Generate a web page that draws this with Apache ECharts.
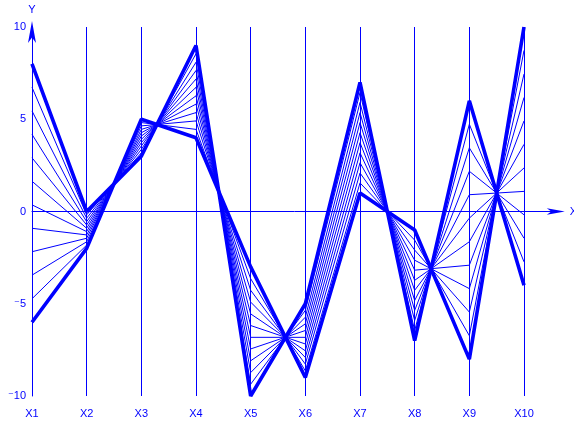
<!DOCTYPE html>
<html>
<head>
<meta charset="utf-8">
<script src="https://cdn.jsdelivr.net/npm/echarts@6/dist/echarts.min.js"></script>
<style>
html,body{margin:0;padding:0;background:#ffffff;}
#chart{width:574px;height:425px;}
</style>
</head>
<body>
<div id="chart"></div>
<script>
// Axis categories and their positions
const categories = ['X1','X2','X3','X4','X5','X6','X7','X8','X9','X10'];
const positions = [1,2,3,4,5,6,7,8,9,10];
const yTickValues = [-10,-5,0,5,10];
const yTickLabels = ['{m|\u207B}10','{m|\u207B}5','0','5','10'];

// Thick boundary lines
const lineA = [8, 0, 3, 9, -10, -5, 7, -7, 6, -4];
const lineB = [-6, -2, 5, 4, -3, -9, 1, -1, -8, 10];

// Thin lines between them
const line1  = [6.73, -0.18, 3.18, 8.55, -9.36, -5.36, 6.45, -6.45, 4.73, -2.73];
const line2  = [5.45, -0.36, 3.36, 8.09, -8.73, -5.73, 5.91, -5.91, 3.45, -1.45];
const line3  = [4.18, -0.55, 3.55, 7.64, -8.09, -6.09, 5.36, -5.36, 2.18, -0.18];
const line4  = [2.91, -0.73, 3.73, 7.18, -7.45, -6.45, 4.82, -4.82, 0.91, 1.09];
const line5  = [1.64, -0.91, 3.91, 6.73, -6.82, -6.82, 4.27, -4.27, -0.36, 2.36];
const line6  = [0.36, -1.09, 4.09, 6.27, -6.18, -7.18, 3.73, -3.73, -1.64, 3.64];
const line7  = [-0.91, -1.27, 4.27, 5.82, -5.55, -7.55, 3.18, -3.18, -2.91, 4.91];
const line8  = [-2.18, -1.45, 4.45, 5.36, -4.91, -7.91, 2.64, -2.64, -4.18, 6.18];
const line9  = [-3.45, -1.64, 4.64, 4.91, -4.27, -8.27, 2.09, -2.09, -5.45, 7.45];
const line10 = [-4.73, -1.82, 4.82, 4.45, -3.64, -8.64, 1.55, -1.55, -6.73, 8.73];

const thinLines = [line1, line2, line3, line4, line5, line6, line7, line8, line9, line10];

const BLUE = '#0000ff';
const FONT = 'Liberation Sans';

function toPairs(vals) {
  return vals.map((v, i) => [positions[i], v]);
}

const series = [];
thinLines.forEach((ln, idx) => {
  series.push({
    type: 'line', name: 'thin' + idx, data: toPairs(ln), xAxisIndex: 0,
    symbol: 'none', lineStyle: { color: BLUE, width: 1 }, z: 3, silent: true
  });
});
[lineA, lineB].forEach((ln, idx) => {
  series.push({
    type: 'line', name: 'thick' + idx, data: toPairs(ln), xAxisIndex: 0,
    symbol: 'none', lineStyle: { color: BLUE, width: 3.6 }, z: 4, silent: true
  });
});

const chart = echarts.init(document.getElementById('chart'), null, { renderer: 'canvas' });
chart.setOption({
  animation: false,
  backgroundColor: '#ffffff',
  grid: { left: 32, right: 17.2, top: 27, bottom: 29, containLabel: false, outerBoundsMode: 'none' },
  xAxis: [
    {
      type: 'value', min: 1, max: 10.6, interval: 1, position: 'bottom',
      axisLine: { show: false, onZero: false },
      axisTick: { show: false },
      splitLine: { show: true, showMinLine: true, showMaxLine: false, lineStyle: { color: BLUE, width: 1 } },
      axisLabel: {
        show: true, showMaxLabel: false, margin: 12,
        color: BLUE, fontFamily: FONT, fontSize: 11,
        formatter: function (v) { const i = positions.indexOf(v); return i >= 0 ? categories[i] : ''; }
      }
    },
    {
      type: 'value', min: 1, max: 10.6, position: 'bottom',
      axisLine: {
        show: true, onZero: true, symbol: ['none', 'arrow'], symbolSize: [5, 18], symbolOffset: [0, 8],
        lineStyle: { color: BLUE, width: 1 }
      },
      axisTick: { show: false },
      axisLabel: { show: false },
      splitLine: { show: false },
      name: 'X', nameLocation: 'end', nameGap: 13,
      nameTextStyle: { color: BLUE, fontFamily: FONT, fontSize: 11 }
    }
  ],
  yAxis: {
    type: 'value', min: -10, max: 10, interval: 5,
    axisLine: {
      show: true, onZero: false, symbol: ['none', 'arrow'], symbolSize: [6, 22], symbolOffset: [0, 6],
      lineStyle: { color: BLUE, width: 1 }
    },
    axisTick: { show: false },
    splitLine: { show: false },
    axisLabel: {
      margin: 6, color: BLUE, fontFamily: FONT, fontSize: 11,
      formatter: function (v) { const i = yTickValues.indexOf(v); return i >= 0 ? yTickLabels[i] : ''; },
      rich: {
        m: { fontFamily: 'DejaVu Sans', fontSize: 11, color: BLUE }
      }
    },
    name: 'Y', nameLocation: 'end', nameGap: 12,
    nameTextStyle: { color: BLUE, fontFamily: FONT, fontSize: 11, align: 'center' }
  },
  series: series
});
</script>
</body>
</html>
